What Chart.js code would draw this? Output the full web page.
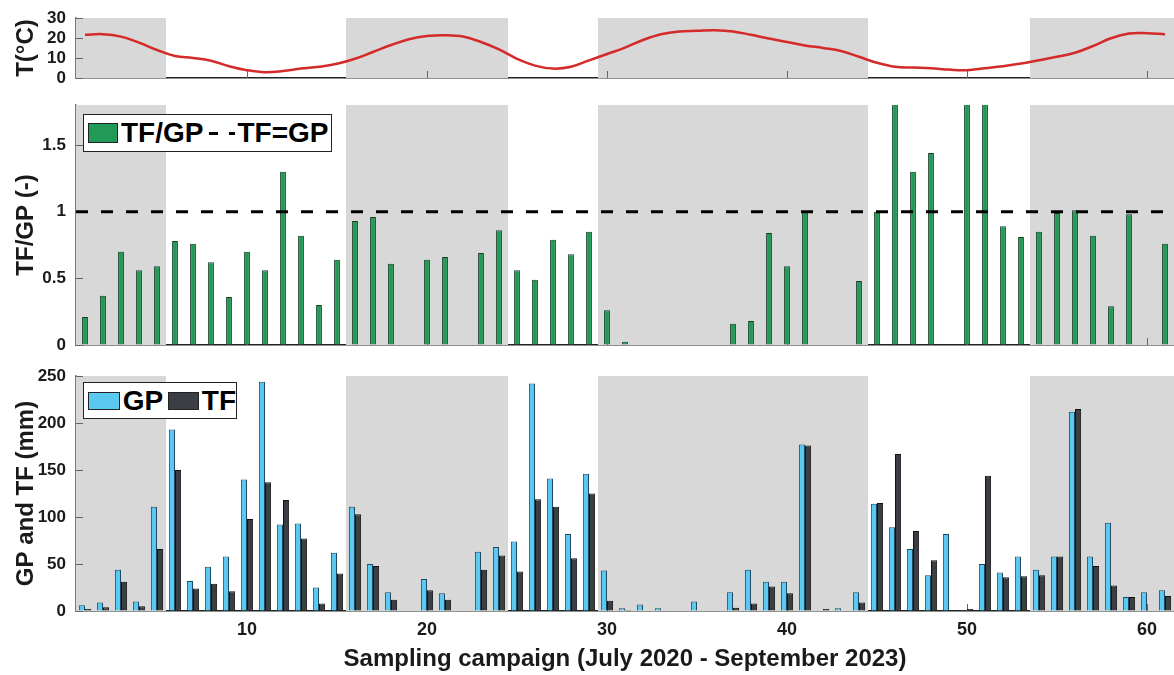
<!DOCTYPE html>
<html>
<head>
<meta charset="utf-8">
<script src="https://cdn.jsdelivr.net/npm/chart.js@4/dist/chart.umd.min.js"></script>
<style>
  body { margin: 0; background: #fff; font-family: 'Liberation Sans', Arial, sans-serif; }
  #wrap { position: relative; width: 1174px; height: 675px; overflow: hidden; }
  .panel { position: absolute; left: 0; width: 1174px; }
  .legend {
    position: absolute; box-sizing: border-box; background: #fff;
    border: 1.5px solid #222; display: flex; align-items: center;
    font-weight: bold; font-size: 28px; color: #000; white-space: nowrap;
  }
  .sw { display: inline-block; box-sizing: border-box; border: 1.5px solid #222; }
  .dash {
    display: inline-block; width: 26px; height: 3px;
    background: linear-gradient(to right, #000 0 9px, transparent 9px 20px, #000 20px 26px);
  }
</style>
</head>
<body>
<div id="wrap">
  <div class="panel" style="top:0;height:95px"><canvas id="tempChart"></canvas></div>
  <div class="panel" style="top:90px;height:270px"><canvas id="ratioChart"></canvas></div>
  <div class="panel" style="top:360px;height:315px"><canvas id="rainChart"></canvas></div>

  <div class="legend" style="left:83px;top:114px;width:249px;height:38px">
    <span class="sw" style="width:30px;height:20px;background:#229a57;margin:0 3px 0 4px"></span>
    <span>TF/GP</span>
    <span class="dash" style="margin:0 2px 0 6px"></span>
    <span>TF=GP</span>
  </div>
  <div class="legend" style="left:83px;top:382px;width:154px;height:37px">
    <span class="sw" style="width:32px;height:18px;background:#5ac8f0;margin:0 3px 0 4px"></span>
    <span>GP</span>
    <span class="sw" style="width:31px;height:18px;background:#3b3f45;margin:0 3px 0 5px"></span>
    <span>TF</span>
  </div>
</div>

<script>
// Sampling campaigns (July 2020 - September 2023)
const campaigns = [1, 2, 3, 4, 5, 6, 7, 8, 9, 10, 11, 12, 13, 14, 15, 16, 17, 18, 19, 20,
  21, 22, 23, 24, 25, 26, 27, 28, 29, 30, 31, 32, 33, 34, 35, 36, 37, 38, 39, 40,
  41, 42, 43, 44, 45, 46, 47, 48, 49, 50, 51, 52, 53, 54, 55, 56, 57, 58, 59, 60, 61];

// air temperature (°C)
const airTemp = [21.6, 21.9, 20.7, 17.7, 14.0, 11.0, 10.0, 8.6, 5.9, 3.9,
  2.9, 3.5, 4.7, 5.6, 7.1, 9.6, 13.0, 16.5, 19.4, 21.0,
  21.4, 20.7, 18.0, 14.3, 9.6, 6.2, 4.7, 5.6, 8.8, 12.0,
  15.2, 19.0, 21.9, 23.3, 23.6, 23.9, 23.3, 21.6, 19.7, 18.0,
  16.3, 15.0, 13.5, 10.6, 7.6, 5.6, 5.2, 4.9, 4.2, 3.9,
  4.9, 5.9, 7.2, 8.9, 10.6, 12.6, 16.0, 19.9, 22.2, 22.4, 21.9];

// TF/GP ratio (-), null where no ratio is shown
const tfGpRatio = [0.21, 0.37, 0.70, 0.56, 0.59, 0.78, 0.76, 0.62, 0.36, 0.70,
  0.56, 1.30, 0.82, 0.30, 0.64, 0.93, 0.96, 0.61, null, 0.64,
  0.66, null, 0.69, 0.86, 0.56, 0.49, 0.79, 0.68, 0.85, 0.26,
  0.025, 0, 0, null, 0, null, 0.16, 0.18, 0.84, 0.59,
  1.0, null, 0, 0.48, 1.0, 1.88, 1.30, 1.44, 0, 2.0,
  2.9, 0.89, 0.81, 0.85, 0.99, 1.01, 0.82, 0.29, 0.98, null, 0.76];

// gross precipitation and throughfall (mm)
const gpRain = [6, 9, 44, 10, 111, 193, 32, 47, 58, 140,
  244, 92, 93, 25, 62, 111, 50, 20, 0, 34,
  19, 0, 63, 68, 74, 242, 141, 82, 146, 43,
  3, 7, 3, 0, 10, 0, 20, 44, 31, 31,
  177, 0, 3, 20, 114, 89, 66, 38, 82, 1,
  50, 41, 58, 44, 58, 212, 58, 94, 15, 20, 22];
const tfRain = [2, 4, 31, 5, 66, 150, 24, 29, 21, 98,
  137, 118, 77, 8, 40, 103, 48, 12, 0, 22,
  12, 0, 44, 59, 42, 119, 111, 56, 125, 11,
  0.1, 0, 0, 0, 0, 0, 3.5, 8, 26, 19,
  176, 2, 0, 9, 115, 167, 85, 54, 0, 2,
  144, 36, 37, 38, 58, 215, 48, 27, 15, 0, 16];

// warm season bands (campaign ranges shaded grey)
const seasonBands = [[0.5, 5.5], [15.5, 24.5], [29.5, 44.5], [53.5, 61.5]];

const xTicks = [10, 20, 30, 40, 50, 60];
const tempTicks = [0, 10, 20, 30];
const ratioTicks = [0, 0.5, 1, 1.5];
const rainTicks = [0, 50, 100, 150, 200, 250];
const equalityLevel = 1;
const xMin = 0.5, xMax = 61.5;

const FONT = "'Liberation Sans', Arial, sans-serif";
const AXIS_LEFT = 76;

function points(values) {
    return campaigns.map((c, i) => ({ x: c, y: values[i] }));
}

// grey season patches plus MATLAB-like inward ticks
const seasonShading = {
    id: 'seasonShading',
    beforeDatasetsDraw(chart) {
        const { ctx, chartArea, scales: { x, y } } = chart;
        ctx.save();
        ctx.fillStyle = '#d8d8d8';
        seasonBands.forEach(([a, b]) => {
            const l = x.getPixelForValue(a);
            const r = x.getPixelForValue(b);
            ctx.fillRect(l, chartArea.top, r - l, chartArea.bottom - chartArea.top);
        });
        ctx.strokeStyle = '#666';
        ctx.lineWidth = 1;
        ctx.beginPath();
        x.ticks.forEach(t => {
            const px = Math.round(x.getPixelForValue(t.value)) + 0.5;
            ctx.moveTo(px, chartArea.bottom);
            ctx.lineTo(px, chartArea.bottom - 7);
        });
        y.ticks.forEach(t => {
            const py = Math.round(y.getPixelForValue(t.value)) + 0.5;
            ctx.moveTo(chartArea.left, py);
            ctx.lineTo(chartArea.left + 7, py);
        });
        ctx.stroke();
        ctx.restore();
    }
};

function xScale(showLabels, height) {
    return {
        type: 'linear',
        min: xMin,
        max: xMax,
        offset: false,
        afterBuildTicks: s => { s.ticks = xTicks.map(v => ({ value: v })); },
        afterFit: s => {
            s.height = height;
            s.paddingLeft = 0;
            s.paddingRight = 0;
        },
        grid: { drawOnChartArea: false, drawTicks: false, offset: false },
        border: { color: '#222', width: 1.5 },
        ticks: {
            display: showLabels,
            autoSkip: false,
            maxRotation: 0,
            padding: 8,
            color: '#1a1a1a',
            callback: v => String(v),
            font: { family: FONT, size: 18, weight: 'bold' }
        },
        title: {
            display: showLabels,
            text: 'Sampling campaign (July 2020 - September 2023)',
            color: '#1a1a1a',
            padding: { top: 0, bottom: 1 },
            font: { family: FONT, size: 24, weight: 'bold' }
        }
    };
}

function yScale(label, min, max, tickValues) {
    return {
        min: min,
        max: max,
        afterBuildTicks: s => { s.ticks = tickValues.map(v => ({ value: v })); },
        afterFit: s => {
            s.width = AXIS_LEFT;
            s.paddingTop = 0;
            s.paddingBottom = 0;
        },
        grid: { drawOnChartArea: false, drawTicks: false },
        border: { color: '#7a7a7a', width: 1.5 },
        ticks: {
            autoSkip: false,
            padding: 10,
            color: '#1a1a1a',
            callback: v => String(v),
            font: { family: FONT, size: 17, weight: 'bold', lineHeight: 1 }
        },
        title: {
            display: true,
            text: label,
            color: '#1a1a1a',
            padding: { top: 12, bottom: 0 },
            font: { family: FONT, size: 24, weight: 'bold' }
        }
    };
}

const baseOptions = (padTop, scales) => ({
    responsive: true,
    maintainAspectRatio: false,
    animation: false,
    layout: { padding: { top: padTop, left: 0, right: 0, bottom: 0 } },
    plugins: { legend: { display: false }, tooltip: { enabled: false } },
    scales: scales
});

// Temperature panel
new Chart(document.getElementById('tempChart'), {
    type: 'line',
    data: {
        datasets: [{
            label: 'T',
            data: points(airTemp),
            borderColor: '#d42a2a',
            borderWidth: 2.5,
            pointRadius: 0,
            tension: 0.4
        }]
    },
    options: baseOptions(18, {
        x: xScale(false, 17),
        y: yScale('T(°C)', 0, 30, tempTicks)
    }),
    plugins: [seasonShading]
});

// TF/GP panel
new Chart(document.getElementById('ratioChart'), {
    type: 'bar',
    data: {
        datasets: [{
            type: 'line',
            label: 'TF=GP',
            data: [{ x: xMin, y: equalityLevel }, { x: xMax, y: equalityLevel }],
            borderColor: '#000',
            borderWidth: 3,
            borderDash: [12, 13],
            pointRadius: 0
        }, {
            label: 'TF/GP',
            data: points(tfGpRatio),
            backgroundColor: '#229a57',
            borderColor: '#173d29',
            borderWidth: 1,
            categoryPercentage: 0.36,
            barPercentage: 0.9
        }]
    },
    options: baseOptions(15, {
        x: xScale(false, 15),
        y: yScale('TF/GP (-)', 0, 1.8, ratioTicks)
    }),
    plugins: [seasonShading]
});

// GP and TF panel
new Chart(document.getElementById('rainChart'), {
    type: 'bar',
    data: {
        datasets: [{
            label: 'GP',
            data: points(gpRain),
            backgroundColor: '#5ac8f0',
            borderColor: '#1c4a63',
            borderWidth: 1
        }, {
            label: 'TF',
            data: points(tfRain),
            backgroundColor: '#3b3f45',
            borderColor: '#111',
            borderWidth: 1
        }]
    },
    options: Object.assign(baseOptions(16, {
        x: xScale(true, 64),
        y: yScale('GP and TF (mm)', 0, 250, rainTicks)
    }), {
        datasets: { bar: { categoryPercentage: 0.68, barPercentage: 1.0 } }
    }),
    plugins: [seasonShading]
});
</script>
</body>
</html>
